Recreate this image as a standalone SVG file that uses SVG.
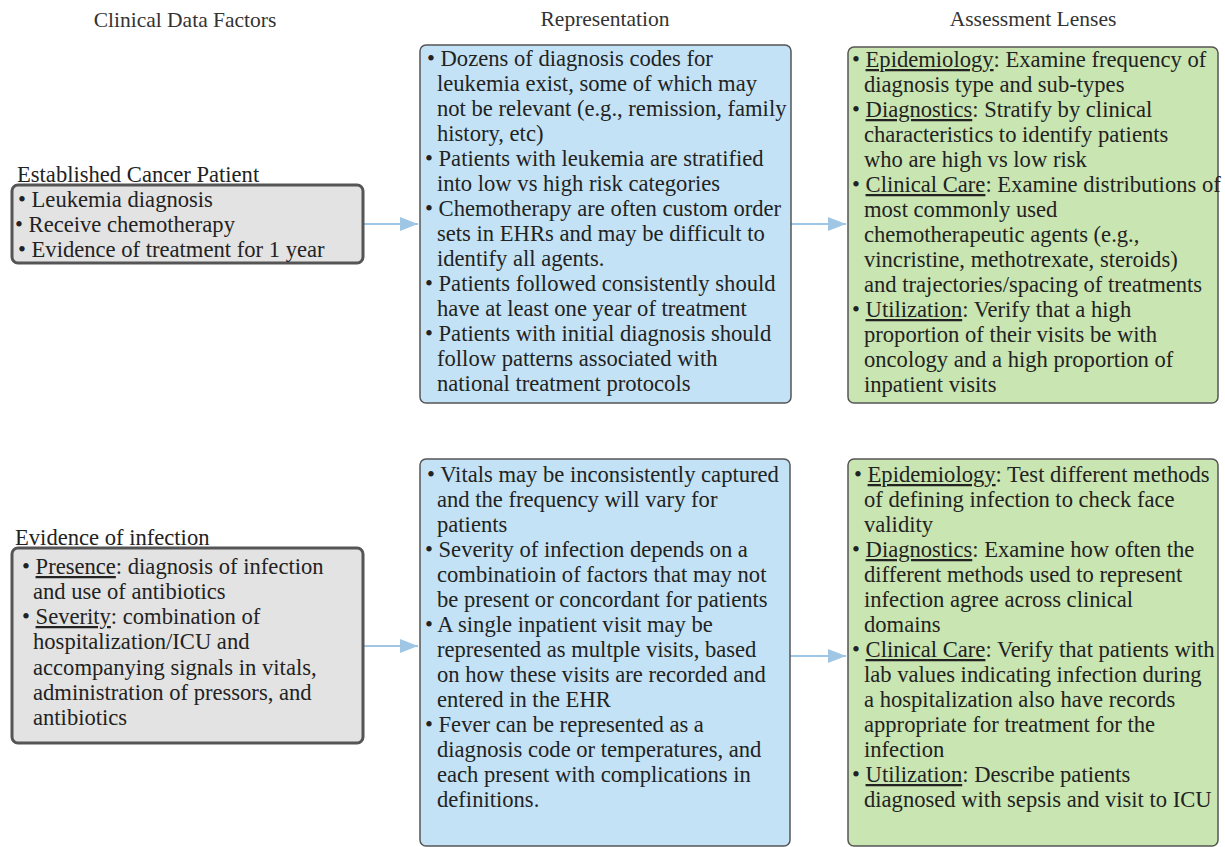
<svg xmlns="http://www.w3.org/2000/svg" width="1225" height="847" viewBox="0 0 1225 847">
<style>
text{font-family:"Liberation Serif","DejaVu Serif",serif;font-size:22.6px;fill:#222}
.hdr{font-size:21.5px;fill:#333;text-anchor:middle}
.u{text-decoration:underline}
.gray{fill:#e3e3e3;stroke:#555;stroke-width:3}
.blue{fill:#c3e2f5;stroke:#555;stroke-width:1.5}
.green{fill:#c9e5b1;stroke:#555;stroke-width:1.5}
.conn{stroke:#9fc6e4;stroke-width:2;fill:none}
</style>
<defs>
<marker id="ah2" viewBox="0 0 18 14" refX="18" refY="7" markerWidth="18" markerHeight="14" markerUnits="userSpaceOnUse" orient="auto"><path d="M0,0 L18,7 L0,14 Z" fill="#9fc6e4"/></marker>
</defs>

<g id="headers">
<text class="hdr" x="185" y="27">Clinical Data Factors</text>
<text class="hdr" x="605" y="26">Representation</text>
<text class="hdr" x="1033" y="26">Assessment Lenses</text>
</g>

<g id="connectors">
<line class="conn" x1="364" y1="224" x2="418" y2="224" marker-end="url(#ah2)"/>
<line class="conn" x1="791" y1="224" x2="846" y2="224" marker-end="url(#ah2)"/>
<line class="conn" x1="364" y1="646" x2="418" y2="646" marker-end="url(#ah2)"/>
<line class="conn" x1="790" y1="656" x2="846" y2="656" marker-end="url(#ah2)"/>
</g>

<g id="node-cancer">
<rect class="gray" x="12" y="185" width="351" height="78" rx="6"/>
<text x="17" y="182">Established Cancer Patient</text>
<text x="18" y="207">• Leukemia diagnosis</text>
<text x="15" y="232">• Receive chemotherapy</text>
<text x="18" y="257">• Evidence of treatment for 1 year</text>
</g>

<g id="node-rep1">
<rect class="blue" x="420" y="45" width="371" height="358" rx="6"/>
<text x="427" y="66">• Dozens of diagnosis codes for</text>
<text x="437" y="91">leukemia exist, some of which may</text>
<text x="437" y="116">not be relevant (e.g., remission, family</text>
<text x="437" y="141">history, etc)</text>
<text x="425" y="166">• Patients with leukemia are stratified</text>
<text x="437" y="191">into low vs high risk categories</text>
<text x="425" y="216">• Chemotherapy are often custom order</text>
<text x="437" y="241">sets in EHRs and may be difficult to</text>
<text x="437" y="266">identify all agents.</text>
<text x="425" y="291">• Patients followed consistently should</text>
<text x="437" y="316">have at least one year of treatment</text>
<text x="425" y="341">• Patients with initial diagnosis should</text>
<text x="437" y="366">follow patterns associated with</text>
<text x="437" y="391">national treatment protocols</text>
</g>

<g id="node-lens1">
<rect class="green" x="848" y="47" width="370" height="356" rx="6"/>
<text x="852" y="67">• <tspan class="u">Epidemiology</tspan>: Examine frequency of</text>
<text x="864" y="92">diagnosis type and sub-types</text>
<text x="852" y="117">• <tspan class="u">Diagnostics</tspan>: Stratify by clinical</text>
<text x="864" y="142">characteristics to identify patients</text>
<text x="864" y="167">who are high vs low risk</text>
<text x="852" y="192">• <tspan class="u">Clinical Care</tspan>: Examine distributions of</text>
<text x="864" y="217">most commonly used</text>
<text x="864" y="242">chemotherapeutic agents (e.g.,</text>
<text x="864" y="267">vincristine, methotrexate, steroids)</text>
<text x="864" y="292">and trajectories/spacing of treatments</text>
<text x="852" y="317">• <tspan class="u">Utilization</tspan>: Verify that a high</text>
<text x="864" y="342">proportion of their visits be with</text>
<text x="864" y="367">oncology and a high proportion of</text>
<text x="864" y="392">inpatient visits</text>
</g>

<g id="node-infection">
<rect class="gray" x="12" y="548" width="351" height="195" rx="6"/>
<text x="15" y="545">Evidence of infection</text>
<text x="22" y="574">• <tspan class="u">Presence</tspan>: diagnosis of infection</text>
<text x="33" y="599">and use of antibiotics</text>
<text x="22" y="624">• <tspan class="u">Severity</tspan>: combination of</text>
<text x="33" y="649">hospitalization/ICU and</text>
<text x="33" y="675">accompanying signals in vitals,</text>
<text x="33" y="700">administration of pressors, and</text>
<text x="33" y="725">antibiotics</text>
</g>

<g id="node-rep2">
<rect class="blue" x="420" y="459" width="370" height="387" rx="6"/>
<text x="427" y="482">• Vitals may be inconsistently captured</text>
<text x="437" y="507">and the frequency will vary for</text>
<text x="437" y="532">patients</text>
<text x="425" y="557">• Severity of infection depends on a</text>
<text x="437" y="582">combinatioin of factors that may not</text>
<text x="437" y="607">be present or concordant for patients</text>
<text x="425" y="632">• A single inpatient visit may be</text>
<text x="437" y="657">represented as multple visits, based</text>
<text x="437" y="682">on how these visits are recorded and</text>
<text x="437" y="707">entered in the EHR</text>
<text x="425" y="732">• Fever can be represented as a</text>
<text x="437" y="757">diagnosis code or temperatures, and</text>
<text x="437" y="782">each present with complications in</text>
<text x="437" y="807">definitions.</text>
</g>

<g id="node-lens2">
<rect class="green" x="848" y="459" width="370" height="387" rx="6"/>
<text x="854" y="482">• <tspan class="u">Epidemiology</tspan>: Test different methods</text>
<text x="864" y="507">of defining infection to check face</text>
<text x="864" y="532">validity</text>
<text x="852" y="557">• <tspan class="u">Diagnostics</tspan>: Examine how often the</text>
<text x="864" y="582">different methods used to represent</text>
<text x="864" y="607">infection agree across clinical</text>
<text x="864" y="632">domains</text>
<text x="852" y="657">• <tspan class="u">Clinical Care</tspan>: Verify that patients with</text>
<text x="864" y="682">lab values indicating infection during</text>
<text x="864" y="707">a hospitalization also have records</text>
<text x="864" y="732">appropriate for treatment for the</text>
<text x="864" y="757">infection</text>
<text x="852" y="782">• <tspan class="u">Utilization</tspan>: Describe patients</text>
<text x="864" y="807">diagnosed with sepsis and visit to ICU</text>
</g>
</svg>
